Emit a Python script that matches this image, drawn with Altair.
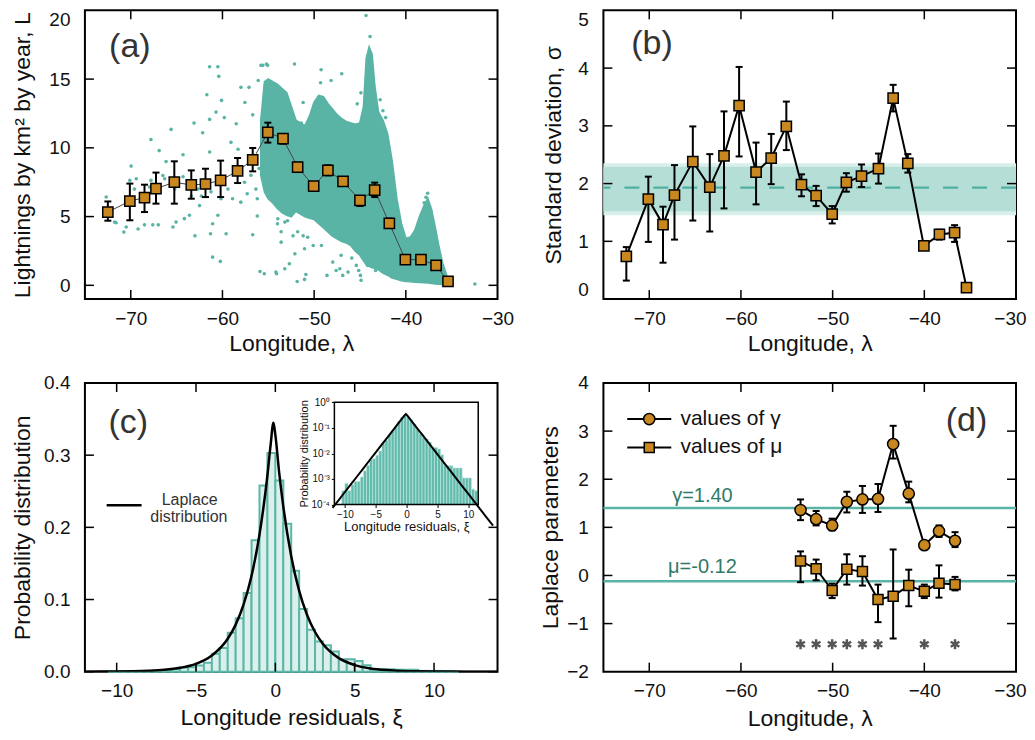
import altair as alt
import pandas as pd

FONT = "Liberation Sans"
TEAL = "#5ab4a6"
TEAL_DARK = "#2f7a68"
ORANGE = "#c8881f"
BAND_OUT = "#d8efea"
BAND_IN = "#b5dfd6"
HIST_FILL = "#dcefeb"
HIST_EDGE = "#5cb7a9"
LABEL = "#333333"
W, H, TL = 413, 289, 9

# ---------------- data: panel (a) ----------------
lon_bins = [-72.5, -70.1, -68.5, -67.25, -65.25, -63.4, -61.85, -60.2, -58.35, -56.7, -55.05, -53.4,
            -51.8, -50.05, -48.5, -46.85, -45.0, -43.4, -41.8, -40.05, -38.35, -36.7, -35.4]
L_mean = [5.33, 6.13, 6.38, 7.03, 7.5, 7.3, 7.37, 7.64, 8.32, 9.12, 11.13, 10.67,
          8.6, 7.22, 8.36, 7.56, 6.18, 6.93, 4.51, 1.87, 1.87, 1.45, 0.29]
L_lo = [4.7, 4.73, 5.33, 5.94, 5.94, 6.3, 6.42, 6.42, 7.44, 8.29, 10.38, 10.3,
        8.24, 6.9, 8.0, 7.22, 5.77, 6.42, 4.17, 1.72, 1.72, 1.3, 0.2]
L_hi = [6.1, 7.4, 7.32, 8.2, 9.02, 8.36, 8.48, 9.07, 9.26, 9.99, 11.83, 10.96,
        8.92, 7.5, 8.73, 7.88, 6.5, 7.47, 4.85, 2.02, 2.02, 1.6, 0.38]

# dense cloud envelope (upper / lower edge of the solid part of the scatter)
core_lon = [-55.8, -55.4, -55.0, -54.5, -54.0, -53.5, -53.0, -52.5, -52.0, -51.5, -51.0, -50.5,
            -50.0, -49.5, -49.0, -48.5, -48.0, -47.5, -47.0, -46.5, -46.0, -45.5, -45.0, -44.6,
            -44.3, -44.0, -43.7, -43.4, -43.0, -42.5, -42.0, -41.5, -41.0, -40.5, -40.0, -39.5,
            -39.0, -38.5, -38.0, -37.6, -37.2, -36.8, -36.4, -36.0, -35.5, -35.0]
core_top = [12.0, 14.8, 15.0, 14.8, 14.6, 14.3, 14.0, 13.0, 12.0, 11.8, 11.6, 12.3,
            13.3, 13.8, 13.7, 13.2, 12.8, 12.4, 12.1, 11.9, 11.8, 11.7, 11.8, 13.0,
            16.5, 17.3, 16.8, 14.5, 12.6, 12.0, 11.0, 9.0, 6.3, 4.5, 3.4, 3.5,
            4.0, 5.0, 5.8, 6.3, 5.5, 4.2, 2.8, 1.6, 0.6, 0.1]
core_bot = [8.0, 6.8, 6.3, 6.0, 5.6, 5.3, 5.1, 5.0, 5.4, 5.2, 5.0, 4.9,
            4.8, 4.5, 4.2, 3.9, 3.6, 3.4, 3.2, 3.1, 2.9, 2.5, 2.2, 1.8,
            1.5, 1.4, 1.3, 1.25, 1.15, 0.9, 0.75, 0.55, 0.45, 0.35, 0.3, 0.28,
            0.25, 0.22, 0.2, 0.18, 0.15, 0.12, 0.1, 0.08, 0.06, 0.05]

# isolated scatter points
out_lon = [-72.68, -71.77, -71.6, -70.76, -70.5, -69.96, -70.1, -69.2, -68.5, -67.8, -67.8, -67.6,
           -67.0, -66.9, -66.5, -66.15, -65.6, -65.4, -65.06, -64.3, -64.15, -63.6, -63.1, -63.0,
           -62.5, -62.16, -61.7, -61.4, -61.4, -61.3, -61.07, -61.07, -60.7, -60.5, -60.4, -61.4,
           -60.5, -60.23, -60.1, -59.8, -59.6, -59.07, -58.5, -58.3, -57.98, -57.55, -57.1, -56.7,
           -56.7, -56.2, -56.1, -55.9, -55.44, -55.6, -55.08, -54.17, -54.0, -53.6, -54.3,
           -59.4, -58.9, -58.0, -57.3, -58.7, -57.6, -56.9, -56.35, -56.2, -56.0, -60.16, -61.25,
           -62.3, -62.7, -63.4, -62.16, -64.3, -65.2, -66.3, -67.96, -69.6, -69.4, -72.4,
           -44.34, -43.9, -52.14, -49.24, -46.99, -48.15, -49.3, -51.2, -51.2, -51.4, -51.3, -51.96,
           -53.2, -52.9, -53.6, -51.8, -51.2, -50.7, -49.2, -50.1, -51.05, -52.1, -52.7, -53.2,
           -54.1, -51.85, -51.05, -50.9, -48.6, -47.97, -47.6, -47.2, -46.88, -47.06, -46.3, -45.9,
           -45.4, -45.14, -44.88, -44.95, -44.16, -43.3, -53.6, -53.4, -53.96, -52.9, -54.1, -52.3,
           -37.62, -32.47, -55.8, -55.2, -42.8, -42.5, -42.2, -45.3, -44.9, -38.0, -37.8]
out_L = [6.42, 4.6, 4.55, 3.87, 4.24, 8.67, 7.63, 4.1, 4.4, 10.6, 7.63, 4.4,
         4.4, 9.8, 7.99, 9.0, 11.34, 4.24, 4.6, 9.5, 4.85, 5.1, 11.8, 3.6,
         5.8, 11.1, 13.86, 12.07, 9.7, 3.75, 4.48, 2.05, 12.6, 5.1, 15.2, 15.9,
         15.9, 1.74, 13.45, 12.2, 3.75, 10.4, 11.75, 9.9, 14.4, 13.3, 14.4, 12.4,
         3.68, 5.04, 14.9, 1.0, 0.84, 16.0, 16.0, 0.96, 4.48, 3.14, 6.4,
         7.0, 6.3, 6.05, 6.66, 8.2, 7.5, 8.0, 7.0, 6.3, 8.5, 6.3, 6.8,
         6.5, 7.0, 6.5, 7.3, 7.9, 7.0, 7.75, 7.15, 7.0, 7.75, 5.1,
         19.63, 18.1, 16.1, 15.68, 15.39, 14.9, 14.73, 13.3, 11.4, 11.8, 6.3, 5.6,
         4.6, 4.7, 3.9, 3.9, 3.6, 3.5, 2.9, 2.9, 2.66, 2.3, 1.57, 1.2,
         0.84, 0.28, 0.43, 0.79, 0.72, 1.69, 1.08, 1.2, 0.72, 2.18, 0.96, 1.98,
         1.45, 1.08, 0.36, 0.72, 1.45, 1.08, 7.0, 5.6, 4.84, 5.9, 6.3, 3.6,
         6.7, 0.1, 16.0, 16.1, 13.5, 12.7, 12.2, 13.2, 14.0, 6.0, 6.4]

# ---------------- data: panel (b) ----------------
sigma = [0.74, 1.73, 1.29, 1.8, 2.38, 1.94, 2.48, 3.35, 2.2, 2.44, 2.99, 1.98,
         1.79, 1.47, 2.02, 2.13, 2.26, 3.48, 2.35, 0.92, 1.12, 1.15, 0.2]
sig_lo = [0.32, 0.99, 0.63, 1.03, 1.36, 1.17, 1.57, 2.47, 1.64, 1.99, 2.58, 1.78,
          1.61, 1.31, 1.86, 1.94, 2.0, 3.25, 2.19, 0.87, 1.03, 0.99, 0.18]
sig_hi = [0.9, 2.12, 1.6, 2.32, 2.99, 2.51, 3.25, 4.02, 2.71, 2.86, 3.42, 2.16,
          1.96, 1.61, 2.18, 2.33, 2.52, 3.71, 2.51, 0.97, 1.2, 1.28, 0.22]
sig_mean = 1.93
band_lo = [1.45, 1.52]
band_hi = [2.35, 2.29]

# ---------------- data: panel (c) ----------------
hist_left = [-10.5, -10.0, -9.5, -9.0, -8.5, -8.0, -7.5, -7.0, -6.5, -6.0, -5.5, -5.0, -4.5, -4.0,
             -3.5, -3.0, -2.5, -2.0, -1.5, -1.0, -0.5, 0.0, 0.5, 1.0, 1.5, 2.0, 2.5, 3.0, 3.5,
             4.0, 4.5, 5.0, 5.5, 6.0, 6.5, 7.0, 7.5, 8.0, 8.5, 9.0, 9.5, 10.0, 10.5, 11.0]
hist_p = [0.00035, 0.00068, 0.00035, 0.0006, 0.0008, 0.0008, 0.0012, 0.0021, 0.0034, 0.0057,
          0.0062, 0.0085, 0.0125, 0.025, 0.033, 0.054, 0.074, 0.109, 0.182, 0.258, 0.303, 0.265,
          0.205, 0.140, 0.087, 0.058, 0.042, 0.0365, 0.028, 0.0172, 0.0172, 0.015, 0.0088,
          0.0035, 0.0033, 0.0033, 0.0027, 0.0027, 0.0027, 0.0011, 0.0011, 0.0011, 0.0004, 0.00035]
bin_w = 0.5
lap_x = [-12, -11, -10, -9, -8, -7, -6, -5, -4, -3, -2.5, -2, -1.5, -1, -0.5, -0.3, -0.12,
         0, 0.25, 0.5, 1, 1.5, 2, 2.5, 3, 4, 5, 6, 7, 8, 9, 10, 11, 12, 13, 14]
lap_p = [0.000074, 0.00015, 0.00031, 0.00063, 0.00128, 0.0026, 0.0054, 0.0109, 0.0224, 0.0456,
         0.0652, 0.0932, 0.133, 0.190, 0.272, 0.314, 0.345, 0.328, 0.274, 0.229, 0.160, 0.112,
         0.0786, 0.055, 0.0384, 0.0188, 0.0092, 0.0045, 0.0022, 0.00108, 0.00053, 0.00026,
         0.000127, 0.000062, 0.00003, 0.000015]
inset_x_dom = [-11.7, 11.6]
inset_y_dom = [0.0001, 1.0]
inset_y_ticks = [0.0001, 0.001, 0.01, 0.1, 1.0]
inset_y_labels = ["10⁻⁴", "10⁻³", "10⁻²", "10⁻¹", "10⁰"]
inset_x_ticks = [-10, -5, 0, 5, 10]

# ---------------- data: panel (d) ----------------
lon_d = [-53.5, -51.8, -50.05, -48.45, -46.75, -45.05, -43.4, -41.7, -40.0, -38.4, -36.65]
gamma = [1.36, 1.17, 1.04, 1.53, 1.58, 1.59, 2.73, 1.7, 0.63, 0.92, 0.72]
gamma_lo = [1.15, 1.04, 0.94, 1.31, 1.3, 1.32, 2.43, 1.52, 0.58, 0.8, 0.59]
gamma_hi = [1.58, 1.34, 1.18, 1.74, 1.86, 1.9, 3.11, 1.95, 0.68, 1.04, 0.9]
mu = [0.3, 0.14, -0.31, 0.13, 0.08, -0.5, -0.43, -0.21, -0.33, -0.16, -0.19]
mu_lo = [-0.14, -0.1, -0.47, -0.19, -0.21, -0.97, -1.31, -0.64, -0.47, -0.46, -0.31]
mu_hi = [0.5, 0.33, -0.17, 0.44, 0.4, -0.19, 0.54, 0.12, -0.19, 0.21, -0.03]
star_lon = [-53.5, -51.8, -50.05, -48.45, -46.75, -45.05, -40.0, -36.65]
star_y = -1.43
gamma_fit = 1.40
mu_fit = -0.12

lon_ticks = [-70, -60, -50, -40, -30]

# ---------------- helpers ----------------
def scale(domain, **kw):
    return alt.Scale(domain=domain, nice=False, zero=False, **kw)


def tick_rules(xvals, yvals, xs, ys, xa, ya):
    dx = pd.DataFrame({"t": xvals})
    dy = pd.DataFrame({"t": yvals})
    st = dict(color="black", strokeWidth=1.5)
    X = alt.X("t:Q", scale=xs, axis=xa)
    Y = alt.Y("t:Q", scale=ys, axis=ya)
    return [
        alt.Chart(dx).mark_rule(**st).encode(x=X, y=alt.value(H), y2=alt.value(H - TL)),
        alt.Chart(dx).mark_rule(**st).encode(x=X, y=alt.value(0), y2=alt.value(TL)),
        alt.Chart(dy).mark_rule(**st).encode(y=Y, x=alt.value(0), x2=alt.value(TL)),
        alt.Chart(dy).mark_rule(**st).encode(y=Y, x=alt.value(W), x2=alt.value(W - TL)),
    ]


def err_layers(df, xf, lo, hi, xs, ys, xa, ya, width=2, cap=7):
    X = alt.X(f"{xf}:Q", scale=xs, axis=xa)
    return [
        alt.Chart(df).mark_rule(color="black", strokeWidth=width).encode(
            x=X, y=alt.Y(f"{lo}:Q", scale=ys, axis=ya), y2=alt.Y2(hi)),
        alt.Chart(df).mark_tick(orient="horizontal", color="black", thickness=width, size=cap, opacity=1).encode(
            x=X, y=alt.Y(f"{lo}:Q", scale=ys, axis=ya)),
        alt.Chart(df).mark_tick(orient="horizontal", color="black", thickness=width, size=cap, opacity=1).encode(
            x=X, y=alt.Y(f"{hi}:Q", scale=ys, axis=ya)),
    ]


def panel_label(text, xv, yv, xs, ys, xa, ya, size=34, color=LABEL, align="center"):
    return alt.Chart(pd.DataFrame({"a": [0]})).mark_text(
        text=text, fontSize=size, color=color, font=FONT, align=align, baseline="middle").encode(
        x=alt.XDatum(xv, type="quantitative", scale=xs, axis=xa),
        y=alt.YDatum(yv, type="quantitative", scale=ys, axis=ya))


# ---------------- panel (a) ----------------
xs_a = scale([-75, -30])
ys_a = scale([-1, 20])
xa_a = alt.Axis(title="Longitude, λ", values=lon_ticks, titleY=33)
ya_a = alt.Axis(title="Lightnings by km² by year, L", values=[0, 5, 10, 15, 20], titleX=-50, labelFlush=True)

df_a = pd.DataFrame({"lon": lon_bins, "L": L_mean, "lo": L_lo, "hi": L_hi})
df_core = pd.DataFrame({"lon": core_lon, "top": core_top, "bot": core_bot})
df_out = pd.DataFrame({"lon": out_lon, "L": out_L})
Xa = alt.X("lon:Q", scale=xs_a, axis=xa_a)

core = alt.Chart(df_core).mark_area(color=TEAL, opacity=1, stroke=TEAL, strokeWidth=2).encode(
    x=Xa, y=alt.Y("top:Q", scale=ys_a, axis=ya_a), y2=alt.Y2("bot"))
dots = alt.Chart(df_out).mark_circle(color=TEAL, size=13, opacity=1).encode(
    x=Xa, y=alt.Y("L:Q", scale=ys_a, axis=ya_a))
line_a = alt.Chart(df_a).mark_line(color="#444444", strokeWidth=1).encode(
    x=Xa, y=alt.Y("L:Q", scale=ys_a, axis=ya_a))
sq_a = alt.Chart(df_a).mark_square(size=105, fill=ORANGE, stroke="black", strokeWidth=1.5, opacity=1).encode(
    x=Xa, y=alt.Y("L:Q", scale=ys_a, axis=ya_a))

pa = alt.layer(
    core, dots,
    *tick_rules([-70, -60, -50, -40], [0, 5, 10, 15], xs_a, ys_a, xa_a, ya_a),
    line_a,
    *err_layers(df_a, "lon", "lo", "hi", xs_a, ys_a, xa_a, ya_a, width=2, cap=7),
    sq_a,
    panel_label("(a)", -70.1, 17.3, xs_a, ys_a, xa_a, ya_a),
).properties(width=W, height=H)

# ---------------- panel (b) ----------------
xs_b = scale([-75, -30])
ys_b = scale([0, 5])
xa_b = alt.Axis(title="Longitude, λ", values=lon_ticks, titleY=33, labelFlush=True, labelFlushOffset=10)
ya_b = alt.Axis(title="Standard deviation, σ", values=[0, 1, 2, 3, 4, 5], titleX=-38, labelFlush=True)
df_b = pd.DataFrame({"lon": lon_bins, "s": sigma, "lo": sig_lo, "hi": sig_hi})
df_band = pd.DataFrame({"lo": band_lo, "hi": band_hi, "k": ["outer", "inner"]})
Xb = alt.X("lon:Q", scale=xs_b, axis=xa_b)

band = alt.Chart(df_band).mark_rect(opacity=1).encode(
    x=alt.value(0), x2=alt.value(W),
    y=alt.Y("lo:Q", scale=ys_b, axis=ya_b), y2=alt.Y2("hi"),
    color=alt.Color("k:N", scale=alt.Scale(domain=["outer", "inner"], range=[BAND_OUT, BAND_IN]), legend=None))
dash = alt.Chart(pd.DataFrame({"a": [0]})).mark_rule(color="#4fb0a1", strokeWidth=2.5, strokeDash=[15, 14]).encode(
    y=alt.YDatum(sig_mean, type="quantitative", scale=ys_b, axis=ya_b))
line_b = alt.Chart(df_b).mark_line(color="black", strokeWidth=2).encode(
    x=Xb, y=alt.Y("s:Q", scale=ys_b, axis=ya_b))
sq_b = alt.Chart(df_b).mark_square(size=105, fill=ORANGE, stroke="black", strokeWidth=1.5, opacity=1).encode(
    x=Xb, y=alt.Y("s:Q", scale=ys_b, axis=ya_b))

pb = alt.layer(
    band, dash,
    *tick_rules([-70, -60, -50, -40], [1, 2, 3, 4], xs_b, ys_b, xa_b, ya_b),
    *err_layers(df_b, "lon", "lo", "hi", xs_b, ys_b, xa_b, ya_b, width=2, cap=7),
    line_b, sq_b,
    panel_label("(b)", -69.7, 4.41, xs_b, ys_b, xa_b, ya_b),
).properties(width=W, height=H)

# ---------------- panel (c) ----------------
xs_c = scale([-12, 14])
ys_c = scale([0, 0.4])
xa_c = alt.Axis(title="Longitude residuals, ξ", values=[-10, -5, 0, 5, 10], titleY=35)
ya_c = alt.Axis(title="Probability distribution", values=[0, 0.1, 0.2, 0.3, 0.4], format=".1f", titleX=-50)
df_h = pd.DataFrame({"x0": hist_left, "p": hist_p})
df_h["x1"] = df_h["x0"] + bin_w
df_h["base"] = 0.0
df_h["base_log"] = inset_y_dom[0]
df_lap = pd.DataFrame({"x": lap_x, "p": lap_p})
Xc = alt.X("x0:Q", scale=xs_c, axis=xa_c)

bars_c = alt.Chart(df_h).mark_rect(fill=HIST_FILL, stroke=HIST_EDGE, strokeWidth=2).encode(
    x=Xc, x2=alt.X2("x1"), y=alt.Y("p:Q", scale=ys_c, axis=ya_c), y2=alt.Y2("base"))
lap_c = alt.Chart(df_lap).mark_line(color="black", strokeWidth=2.5, interpolate="monotone", clip=True).encode(
    x=alt.X("x:Q", scale=xs_c, axis=xa_c), y=alt.Y("p:Q", scale=ys_c, axis=ya_c))
leg_line = alt.Chart(pd.DataFrame({"a": [0]})).mark_rule(color="black", strokeWidth=2.5).encode(
    x=alt.XDatum(-10.63, type="quantitative", scale=xs_c, axis=xa_c),
    x2=alt.X2Datum(-8.43),
    y=alt.YDatum(0.2305, type="quantitative", scale=ys_c, axis=ya_c))

main_c = alt.layer(
    bars_c, lap_c,
    *tick_rules([-10, -5, 0, 5, 10], [0, 0.1, 0.2, 0.3], xs_c, ys_c, xa_c, ya_c),
    leg_line,
    panel_label("Laplace", -5.4, 0.238, xs_c, ys_c, xa_c, ya_c, size=16),
    panel_label("distribution", -5.45, 0.2145, xs_c, ys_c, xa_c, ya_c, size=16),
    panel_label("(c)", -9.27, 0.344, xs_c, ys_c, xa_c, ya_c),
)

# inset
IN_X0, IN_X1, IN_Y0, IN_Y1 = 249.7, 393.7, 19.3, 121.7
xs_i = alt.Scale(domain=inset_x_dom, range=[IN_X0, IN_X1], nice=False, zero=False)
ys_i = alt.Scale(type="log", domain=inset_y_dom, range=[IN_Y1, IN_Y0], nice=False)
lab_expr = " : ".join(
    f"abs(datum.value - {v}) < {v * 1e-3} ? '{s}'" for v, s in zip(inset_y_ticks, inset_y_labels)) + " : ''"
xa_i = alt.Axis(title="Longitude residuals, ξ", orient="bottom", offset=-(H - IN_Y1), values=inset_x_ticks,
                labelFontSize=10, titleFontSize=13, labelPadding=2, titlePadding=1, ticks=True, tickSize=3,
                tickColor="black", labelFlush=False)
ya_i = alt.Axis(title="Probability distribution", orient="left", offset=-IN_X0, values=inset_y_ticks,
                labelExpr=lab_expr, labelFontSize=10, titleFontSize=11, labelPadding=2, titlePadding=1,
                ticks=True, tickSize=3, tickColor="black")
df_box = pd.DataFrame({"x0": [inset_x_dom[0]], "x1": [inset_x_dom[1]],
                       "y0": [inset_y_dom[0]], "y1": [inset_y_dom[1]]})
in_bg = alt.Chart(df_box).mark_rect(fill="white").encode(
    x=alt.X("x0:Q", scale=xs_i, axis=xa_i), x2=alt.X2("x1"),
    y=alt.Y("y0:Q", scale=ys_i, axis=ya_i), y2=alt.Y2("y1"))
in_bars = alt.Chart(df_h).mark_rect(fill="#62bbad", stroke="#c5e8e1", strokeWidth=0.6, clip=True).encode(
    x=alt.X("x0:Q", scale=xs_i, axis=xa_i), x2=alt.X2("x1"),
    y=alt.Y("p:Q", scale=ys_i, axis=ya_i), y2=alt.Y2("base_log"))
in_lap = alt.Chart(df_lap).mark_line(color="black", strokeWidth=2, clip=True).encode(
    x=alt.X("x:Q", scale=xs_i, axis=xa_i), y=alt.Y("p:Q", scale=ys_i, axis=ya_i))
in_frame = alt.Chart(df_box).mark_rect(fillOpacity=0, stroke="black", strokeWidth=1.5).encode(
    x=alt.X("x0:Q", scale=xs_i, axis=xa_i), x2=alt.X2("x1"),
    y=alt.Y("y0:Q", scale=ys_i, axis=ya_i), y2=alt.Y2("y1"))
inset = alt.layer(in_bg, in_bars, in_lap, in_frame)

pc = alt.layer(main_c, inset).resolve_scale(x="independent", y="independent").properties(width=W, height=H)

# ---------------- panel (d) ----------------
xs_d = scale([-75, -30])
ys_d = scale([-2, 4])
xa_d = alt.Axis(title="Longitude, λ", values=lon_ticks, titleY=36, labelFlush=True, labelFlushOffset=10)
ya_d = alt.Axis(title="Laplace parameters", values=[-2, -1, 0, 1, 2, 3, 4], titleX=-41)
df_g = pd.DataFrame({"lon": lon_d, "v": gamma, "lo": gamma_lo, "hi": gamma_hi})
df_m = pd.DataFrame({"lon": lon_d, "v": mu, "lo": mu_lo, "hi": mu_hi})
df_s = pd.DataFrame({"lon": star_lon, "y": [star_y] * len(star_lon)})
Xd = alt.X("lon:Q", scale=xs_d, axis=xa_d)
Yd = alt.Y("v:Q", scale=ys_d, axis=ya_d)

fit_lines = alt.Chart(pd.DataFrame({"v": [gamma_fit, mu_fit]})).mark_rule(color=TEAL, strokeWidth=2.5).encode(y=Yd)
line_g = alt.Chart(df_g).mark_line(color="black", strokeWidth=2).encode(x=Xd, y=Yd)
line_m = alt.Chart(df_m).mark_line(color="black", strokeWidth=2).encode(x=Xd, y=Yd)
pts_g = alt.Chart(df_g).mark_circle(size=125, fill=ORANGE, stroke="black", strokeWidth=1.5, opacity=1).encode(x=Xd, y=Yd)
pts_m = alt.Chart(df_m).mark_square(size=100, fill=ORANGE, stroke="black", strokeWidth=1.5, opacity=1).encode(x=Xd, y=Yd)
STAR = "M0,-1L0,1M-0.87,-0.5L0.87,0.5M-0.87,0.5L0.87,-0.5"
stars = alt.Chart(df_s).mark_point(shape=STAR, filled=False, stroke="#555555", strokeWidth=2.5, size=100, opacity=1).encode(
    x=Xd, y=alt.Y("y:Q", scale=ys_d, axis=ya_d))


def leg_row(yv, marker, text):
    seg = alt.Chart(pd.DataFrame({"a": [0]})).mark_rule(color="black", strokeWidth=2).encode(
        x=alt.XDatum(-72.4, type="quantitative", scale=xs_d, axis=xa_d), x2=alt.X2Datum(-67.6),
        y=alt.YDatum(yv, type="quantitative", scale=ys_d, axis=ya_d))
    base = alt.Chart(pd.DataFrame({"a": [0]}))
    if marker == "circle":
        m = base.mark_circle(size=125, fill=ORANGE, stroke="black", strokeWidth=1.5, opacity=1)
    else:
        m = base.mark_square(size=100, fill=ORANGE, stroke="black", strokeWidth=1.5, opacity=1)
    m = m.encode(x=alt.XDatum(-70.0, type="quantitative", scale=xs_d, axis=xa_d),
                 y=alt.YDatum(yv, type="quantitative", scale=ys_d, axis=ya_d))
    t = panel_label(text, -66.6, yv, xs_d, ys_d, xa_d, ya_d, size=21, color="#111111", align="left")
    return [seg, m, t]


pdd = alt.layer(
    fit_lines,
    *tick_rules([-70, -60, -50, -40], [-1, 0, 1, 2, 3], xs_d, ys_d, xa_d, ya_d),
    panel_label("γ=1.40", -64.2, 1.66, xs_d, ys_d, xa_d, ya_d, size=20, color=TEAL_DARK),
    panel_label("μ=-0.12", -64.2, 0.18, xs_d, ys_d, xa_d, ya_d, size=20, color=TEAL_DARK),
    *err_layers(df_g, "lon", "lo", "hi", xs_d, ys_d, xa_d, ya_d, width=2, cap=7),
    *err_layers(df_m, "lon", "lo", "hi", xs_d, ys_d, xa_d, ya_d, width=2, cap=7),
    line_g, line_m, pts_g, pts_m, stars,
    *leg_row(3.25, "circle", "values of γ"),
    *leg_row(2.66, "square", "values of μ"),
    panel_label("(d)", -35.4, 3.2, xs_d, ys_d, xa_d, ya_d),
).properties(width=W, height=H)

chart = alt.concat(pa, pb, pc, pdd, columns=2, spacing={"row": 84, "column": 106}, bounds="flush").configure(
    font=FONT, padding={"left": 2, "top": 0, "right": 0, "bottom": 0}, background="white"
).configure_view(stroke="black", strokeWidth=2).configure_axis(
    grid=False, domain=False, ticks=False, tickSize=0, labelFont=FONT, titleFont=FONT,
    labelFontSize=19, titleFontSize=23, titleFontWeight="normal", labelColor="#111111",
    titleColor="#111111", labelFlush=False, labelOverlap=False
).configure_axisX(labelPadding=10).configure_axisY(labelPadding=15)

chart.save("out.html", embed_options={"renderer": "svg", "actions": False})
